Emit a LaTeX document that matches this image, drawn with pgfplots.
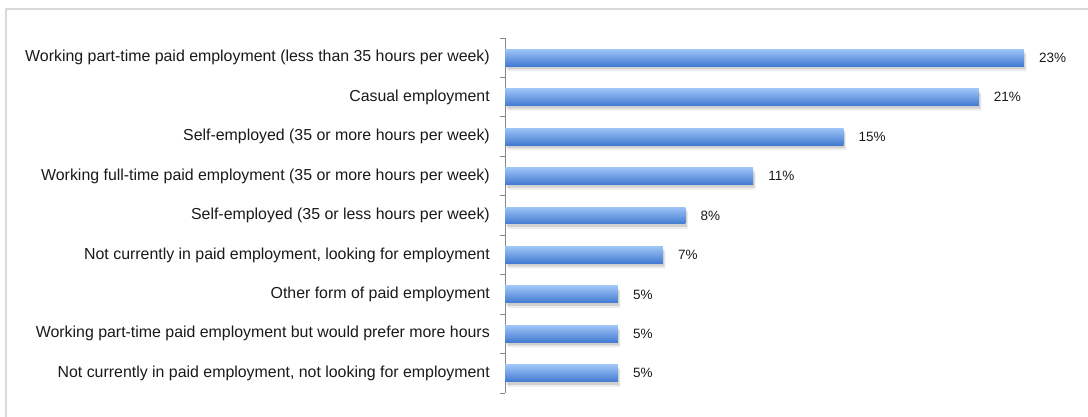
\documentclass[border=0pt]{standalone}
\usepackage{fontspec}
\setmainfont{Liberation Sans}
\usepackage{pgfplots}
\pgfplotsset{compat=1.18}
\definecolor{bartop}{RGB}{158,196,248}
\definecolor{barbot}{RGB}{66,122,208}
\definecolor{frame}{RGB}{217,217,217}
\definecolor{axgray}{RGB}{134,134,134}
\pgfplotstableread{
val cat
23 0
21 1
15 2
11 3
8 4
7 5
5 6
5 7
5 8
}\datatab
\pgfplotsset{
  mybar/.style={xbar, bar width=0.43, bar shift=0pt, draw=none,
    shading=axis, top color=bartop, bottom color=barbot, shading angle=0,
    nodes near coords={\pgfmathprintnumber[assume math mode=true]{\pgfplotspointmeta}\%},
    every node near coord/.append style={anchor=west, inner sep=0pt, xshift=15bp,
      font=\fontsize{13.5bp}{15bp}\selectfont, text=black!90}},
}
\begin{document}
\begin{tikzpicture}
\useasboundingbox (0,0) rectangle (1088bp,417bp);
\draw[frame, line width=2bp] (6bp,0) -- (6bp,408bp) -- (1088bp,408bp);
\begin{axis}[
  at={(505bp,24bp)}, anchor=south west,
  scale only axis, width=564bp, height=355bp,
  xmin=0, xmax=25,
  ymin=-0.5, ymax=8.5, y dir=reverse,
  hide x axis,
  axis y line=left,
  y axis line style={-, axgray, line width=1bp},
  ytick={0,...,8},
  yticklabels={
    Working part-time paid employment (less than 35 hours per week),
    Casual employment,
    Self-employed (35 or more hours per week),
    Working full-time paid employment (35 or more hours per week),
    Self-employed (35 or less hours per week),
    {Not currently in paid employment, looking for employment},
    Other form of paid employment,
    Working part-time paid employment but would prefer more hours,
    {Not currently in paid employment, not looking for employment}},
  minor ytick={-0.5,0.5,...,8.5},
  major tick length=0pt,
  minor tick length=5bp,
  tick align=outside,
  minor tick style={axgray, line width=1bp},
  yticklabel style={inner sep=0pt, xshift=-15bp, font=\fontsize{15.9bp}{18bp}\selectfont, text=black!90},
  clip=false,
]
\addplot[xbar, bar width=0.43, bar shift=0pt, draw=none, fill=black, fill opacity=0.07, xshift=2.5bp, yshift=-5bp]
  table[x=val, y=cat] {\datatab};
\addplot[xbar, bar width=0.43, bar shift=0pt, draw=none, fill=black, fill opacity=0.12, xshift=1.5bp, yshift=-3bp]
  table[x=val, y=cat] {\datatab};
\addplot[mybar] coordinates {(23,0)};
\addplot[mybar] coordinates {(21,1)};
\addplot[mybar] coordinates {(15,2)};
\addplot[mybar] coordinates {(11,3)};
\addplot[mybar] coordinates {(8,4)};
\addplot[mybar] coordinates {(7,5)};
\addplot[mybar] coordinates {(5,6)};
\addplot[mybar] coordinates {(5,7)};
\addplot[mybar] coordinates {(5,8)};
\end{axis}
\end{tikzpicture}
\end{document}
